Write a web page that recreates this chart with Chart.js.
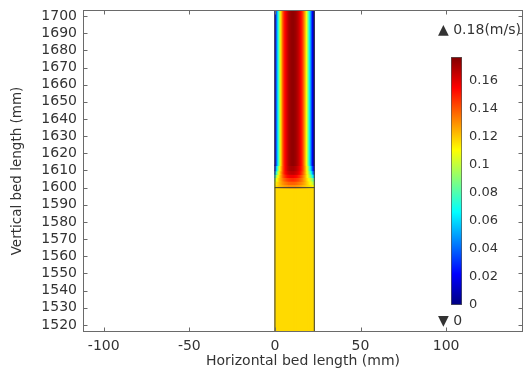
<!DOCTYPE html>
<html><head><meta charset="utf-8">
<script src="https://cdn.jsdelivr.net/npm/chart.js@4.4.1/dist/chart.umd.min.js"></script>
<style>
html,body{margin:0;padding:0;background:#fff;}
#wrap{position:relative;width:529px;height:370px;font-family:'DejaVu Sans',sans-serif;overflow:hidden;}
#main{position:absolute;left:0;top:0;width:529px;height:370px;}
#cbar{position:absolute;left:446px;top:47px;width:83px;height:268px;}
.lbl{position:absolute;font-size:14px;color:#333;white-space:nowrap;line-height:16px;}
</style></head><body>
<div id="wrap">
<canvas id="main" width="529" height="370"></canvas>
<canvas id="cbar" width="83" height="268"></canvas>
<div class="lbl" style="left:438px;top:21px">▲ 0.18(m/s)</div>
<div class="lbl" style="left:438px;top:312px">▼ 0</div>
</div>
<script>
// ---- data ----
const xCenters = [0.25,0.75,1.25,1.75,2.25,2.75,3.25,3.75,4.25,4.75,5.25,5.75,6.25,6.75,7.25,7.75,8.25,8.75,9.25,9.75,10.25,10.75,11.25,11.75,12.25,12.75,13.25,13.75,14.25,14.75,15.25,15.75,16.25,16.75,17.25,17.75,18.25,18.75,19.25,19.75,20.25,20.75,21.25,21.75,22.25,22.75];
const bandBottoms = [1600,1602,1604,1606,1608,1610,1613];
const bandTops    = [1602,1604,1606,1608,1610,1613,1710];
const vel1601 = [0.113,0.115,0.117,0.118,0.120,0.121,0.122,0.123,0.124,0.125,0.126,0.127,0.128,0.128,0.129,0.129,0.130,0.130,0.130,0.130,0.130,0.130,0.130,0.130,
                 0.130,0.129,0.129,0.128,0.128,0.127,0.126,0.125,0.124,0.123,0.122,0.121,0.120,0.119,0.118,0.117,0.116,0.115,0.114,0.113,0.112,0.110];
const vel1603 = [0.108,0.112,0.115,0.117,0.119,0.121,0.123,0.125,0.127,0.129,0.130,0.132,0.133,0.134,0.135,0.136,0.137,0.137,0.138,0.138,0.138,0.138,0.138,0.138,
                 0.137,0.137,0.136,0.135,0.134,0.133,0.132,0.131,0.129,0.128,0.126,0.124,0.122,0.120,0.118,0.116,0.114,0.111,0.108,0.105,0.101,0.097];
const vel1605 = [0.095,0.103,0.108,0.112,0.116,0.120,0.123,0.126,0.129,0.132,0.135,0.137,0.139,0.141,0.143,0.144,0.145,0.146,0.146,0.147,0.147,0.147,0.147,0.146,
                 0.146,0.145,0.144,0.143,0.142,0.140,0.138,0.136,0.134,0.131,0.128,0.125,0.122,0.119,0.116,0.112,0.108,0.104,0.100,0.096,0.090,0.085];
const vel1607 = [0.070,0.085,0.095,0.104,0.110,0.116,0.121,0.126,0.131,0.136,0.140,0.144,0.147,0.150,0.152,0.154,0.155,0.156,0.157,0.157,0.157,0.157,0.157,0.156,
                 0.155,0.154,0.153,0.151,0.149,0.147,0.144,0.141,0.138,0.134,0.130,0.126,0.121,0.116,0.111,0.105,0.099,0.093,0.086,0.079,0.070,0.060];
const vel1609 = [0.040,0.060,0.075,0.090,0.100,0.110,0.118,0.125,0.132,0.138,0.144,0.149,0.153,0.156,0.159,0.161,0.163,0.164,0.165,0.166,0.166,0.166,0.166,0.165,
                 0.164,0.163,0.162,0.160,0.158,0.155,0.152,0.148,0.144,0.139,0.134,0.128,0.122,0.115,0.108,0.100,0.092,0.083,0.073,0.062,0.050,0.038];
const vel1611 = [0.025,0.042,0.057,0.072,0.087,0.100,0.110,0.120,0.128,0.136,0.143,0.149,0.154,0.158,0.161,0.164,0.166,0.168,0.169,0.170,0.170,0.170,0.170,0.169,
                 0.168,0.167,0.165,0.163,0.161,0.158,0.155,0.151,0.147,0.142,0.136,0.129,0.122,0.114,0.105,0.095,0.084,0.072,0.060,0.047,0.035,0.022];
const velDeveloped = [0.010,0.025,0.040,0.055,0.070,0.085,0.100,0.115,0.125,0.135,0.143,0.150,0.154,0.158,0.162,0.165,0.168,0.170,0.172,0.173,0.174,0.174,0.174,0.173,
                 0.172,0.171,0.169,0.167,0.164,0.161,0.157,0.153,0.148,0.142,0.135,0.127,0.119,0.109,0.098,0.086,0.073,0.060,0.047,0.034,0.021,0.008];
const bandVelocities = [vel1601, vel1603, vel1605, vel1607, vel1609, vel1611, velDeveloped];
const bedVelocity = 0.117;
const bedBottom = 1516, bedTop = 1600;
const channelLeft = 0, channelRight = 23, channelTop = 1710;
const vMax = 0.177;
const colormapStops = [0, 0.125, 0.375, 0.625, 0.875, 1];
const xRange = [-112.1, 144.9];
const yRange = [1515.9, 1703.5];
const xStep = 50, yStep = 10, cStep = 0.02;

// ---- helpers ----
function clamp(v){return Math.max(0, Math.min(1, v));}
function jet(f){
  f = clamp(f);
  const r = clamp(1.5 - Math.abs(4*f - 3));
  const g = clamp(1.5 - Math.abs(4*f - 2));
  const b = clamp(1.5 - Math.abs(4*f - 1));
  return `rgb(${Math.round(r*255)},${Math.round(g*255)},${Math.round(b*255)})`;
}
const FAM = "'DejaVu Sans', sans-serif";
const TICKFONT = {family:FAM, size:14};
const TXT = '#333';
function noPad(s){ s.paddingTop = 0; s.paddingBottom = 0; s.paddingLeft = 0; s.paddingRight = 0; }

const barCommon = {type:'bar', grouped:false, barPercentage:1, categoryPercentage:1, inflateAmount:0.6, borderWidth:0, clip:0};
const datasets = [];
const lineCommon = {type:'line', borderColor:'#3a3a3a', borderWidth:1, pointRadius:0, fill:false, clip:0, tension:0, borderCapStyle:'butt'};
datasets.push({...lineCommon, data:[{x:channelLeft,y:bedBottom},{x:channelLeft,y:channelTop}]});
datasets.push({...lineCommon, data:[{x:channelRight,y:bedBottom},{x:channelRight,y:channelTop}]});
datasets.push({...lineCommon, data:[{x:channelLeft,y:bedTop},{x:channelRight,y:bedTop}]});
for (let i = bandVelocities.length - 1; i >= 0; i--) {
  datasets.push({...barCommon,
    data: xCenters.map(x => ({x, y:[bandBottoms[i], bandTops[i]]})),
    backgroundColor: bandVelocities[i].map(v => jet(v / vMax))});
}
datasets.push({...barCommon,
  data: xCenters.map(x => ({x, y:[bedBottom, bedTop]})),
  backgroundColor: jet(bedVelocity / vMax)});

const framePlugin = {
  id:'frame',
  afterDraw(chart){
    const {ctx, chartArea:a, scales:{x, y}} = chart;
    ctx.save();
    ctx.strokeStyle = '#6a6a6a'; ctx.lineWidth = 1;
    const L = Math.round(a.left)+0.5, R = Math.round(a.right)-0.5, T = Math.round(a.top)+0.5, B = Math.round(a.bottom)-0.5;
    ctx.strokeRect(L, T, R-L, B-T);
    ctx.beginPath();
    x.ticks.forEach(t => {
      const px = Math.round(x.getPixelForValue(t.value))+0.5;
      ctx.moveTo(px, B); ctx.lineTo(px, B-4);
      ctx.moveTo(px, T); ctx.lineTo(px, T+4);
    });
    y.ticks.forEach(t => {
      const py = Math.round(y.getPixelForValue(t.value))+0.5;
      ctx.moveTo(L, py); ctx.lineTo(L+4, py);
      ctx.moveTo(R, py); ctx.lineTo(R-4, py);
    });
    ctx.stroke();
    ctx.restore();
  }
};

new Chart(document.getElementById('main'), {
  type:'bar',
  data:{datasets},
  options:{
    responsive:false, animation:false, events:[],
    layout:{padding:{left:0, right:6, top:10, bottom:0}},
    plugins:{legend:{display:false}, tooltip:{enabled:false}},
    scales:{
      x:{type:'linear', min:xRange[0], max:xRange[1], offset:false,
         ticks:{stepSize:xStep, includeBounds:false, padding:6, color:TXT, font:TICKFONT, maxRotation:0, autoSkip:false, callback:v => String(v)},
         grid:{display:false, drawTicks:false}, border:{display:false},
         title:{display:true, text:'Horizontal bed length (mm)', color:TXT, font:{family:FAM, size:14}, padding:0},
         afterFit(s){ s.height = 38; noPad(s); }},
      y:{type:'linear', min:yRange[0], max:yRange[1], beginAtZero:false,
         ticks:{stepSize:yStep, includeBounds:false, padding:6, color:TXT, font:TICKFONT, autoSkip:false, callback:v => String(v)},
         grid:{display:false, drawTicks:false}, border:{display:false},
         title:{display:true, text:'Vertical bed length (mm)', color:TXT, font:{family:FAM, size:13.5}, padding:{top:9, bottom:0}},
         afterFit(s){ s.width = 83; noPad(s); }}
    }
  },
  plugins:[framePlugin]
});

// ---- colour bar ----
new Chart(document.getElementById('cbar'), {
  type:'bar',
  data:{labels:['v'], datasets:[{
    data:[[0, vMax]],
    backgroundColor(c){
      const ch = c.chart, a = ch.chartArea;
      if (!a) return jet(0.5);
      const g = ch.ctx.createLinearGradient(0, ch.scales.y.getPixelForValue(0), 0, ch.scales.y.getPixelForValue(vMax));
      colormapStops.forEach(f => g.addColorStop(f, jet(f)));
      return g;
    },
    borderColor:'#555', borderWidth:1, borderSkipped:false, barPercentage:1, categoryPercentage:1
  }]},
  options:{
    responsive:false, animation:false, events:[],
    layout:{padding:{left:5, right:0, top:10, bottom:10}},
    plugins:{legend:{display:false}, tooltip:{enabled:false}},
    scales:{
      x:{display:false},
      y:{position:'right', min:0, max:vMax, beginAtZero:false,
         ticks:{stepSize:cStep, includeBounds:false, padding:7, color:TXT, font:{family:FAM, size:13}, autoSkip:false, callback:v => String(+v.toFixed(2))},
         grid:{display:false, drawTicks:false}, border:{display:false},
         afterFit(s){ s.width = 67; noPad(s); }}
    }
  }
});
</script>
</body></html>
